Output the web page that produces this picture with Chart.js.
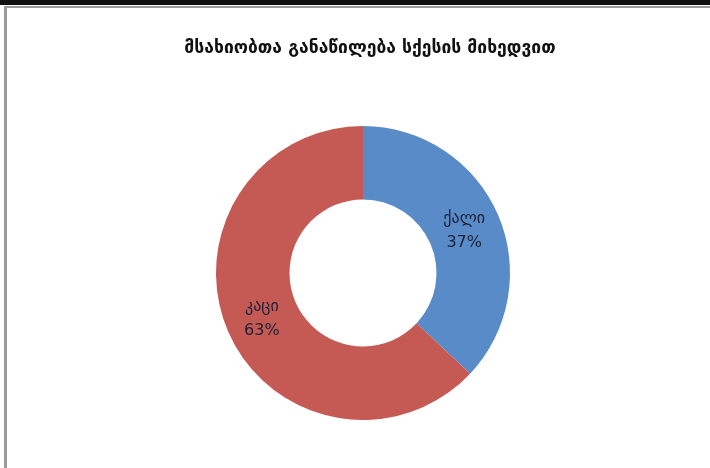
<!DOCTYPE html>
<html>
<head>
<meta charset="utf-8">
<script src="https://cdn.jsdelivr.net/npm/chart.js@4.4.1/dist/chart.umd.min.js"></script>
<style>
  html, body { margin: 0; padding: 0; background: #fff; }
  #wrap { position: relative; width: 710px; height: 468px; overflow: hidden; background: #fff; }
  #topbar { position: absolute; left: 0; top: 0; width: 710px; height: 5px; background: #111; }
  #topline { position: absolute; left: 4px; top: 6px; width: 706px; height: 2px; background: #9a9a9a; }
  #leftline { position: absolute; left: 4px; top: 6px; width: 3px; height: 462px; background: #9a9a9a; }
  canvas { position: absolute; left: 0; top: 0; }
</style>
</head>
<body>
<div id="wrap">
  <canvas id="c" width="710" height="468"></canvas>
  <div id="topbar"></div>
  <div id="topline"></div>
  <div id="leftline"></div>
</div>
<script>
const chartTitle = "მსახიობთა განაწილება სქესის მიხედვით";
const categories = ["ქალი", "კაცი"];
const values = [37, 63];
const colors = ["#5A8BC9", "#C55A55"];

const titlePlugin = {
  id: "customTitle",
  afterDraw(chart) {
    const ctx = chart.ctx;
    ctx.save();
    ctx.font = "bold 17.5px 'DejaVu Sans'";
    ctx.fillStyle = "#111";
    ctx.textAlign = "center";
    ctx.textBaseline = "middle";
    ctx.fillText(chartTitle, 370, 48);
    ctx.restore();
  }
};

const labelPlugin = {
  id: "sliceLabels",
  afterDatasetsDraw(chart) {
    const ctx = chart.ctx;
    const meta = chart.getDatasetMeta(0);
    const total = values.reduce((a, b) => a + b, 0);
    ctx.save();
    ctx.font = "16px 'DejaVu Sans'";
    ctx.fillStyle = "#1c2236";
    ctx.textAlign = "center";
    ctx.textBaseline = "middle";
    meta.data.forEach((arc, i) => {
      const p = arc.tooltipPosition();
      const pct = Math.round(values[i] / total * 100) + "%";
      ctx.fillText(categories[i], p.x, p.y - 10);
      ctx.fillText(pct, p.x, p.y + 14);
    });
    ctx.restore();
  }
};

new Chart(document.getElementById("c"), {
  type: "doughnut",
  data: {
    labels: categories,
    datasets: [{
      data: values,
      backgroundColor: colors,
      borderWidth: 0
    }]
  },
  options: {
    responsive: false,
    animation: false,
    cutout: "50%",
    layout: { padding: { top: 126, bottom: 48, left: 16, right: 0 } },
    plugins: {
      legend: { display: false },
      title: { display: false },
      tooltip: { enabled: false }
    }
  },
  plugins: [titlePlugin, labelPlugin]
});
</script>
</body>
</html>
